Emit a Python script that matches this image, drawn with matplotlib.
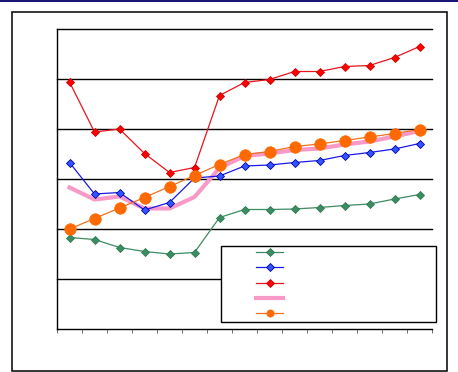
import matplotlib
matplotlib.use("Agg")
import matplotlib.pyplot as plt
from matplotlib.patches import Rectangle
from matplotlib.lines import Line2D

# ---- data ----
periods = list(range(1, 16))
green_vals = [1.83, 1.79, 1.63, 1.55, 1.50, 1.53, 2.23, 2.39, 2.39, 2.40, 2.43, 2.47, 2.50, 2.60, 2.69]
blue_vals = [3.33, 2.70, 2.73, 2.38, 2.53, 3.02, 3.06, 3.26, 3.28, 3.33, 3.37, 3.47, 3.53, 3.60, 3.71]
red_vals = [4.94, 3.94, 4.00, 3.51, 3.13, 3.23, 4.67, 4.93, 4.99, 5.15, 5.15, 5.25, 5.27, 5.43, 5.65]
pink_vals = [2.83, 2.59, 2.65, 2.41, 2.41, 2.64, 3.22, 3.46, 3.51, 3.58, 3.61, 3.69, 3.75, 3.85, 3.96]
orange_vals = [2.00, 2.21, 2.42, 2.63, 2.85, 3.07, 3.29, 3.49, 3.55, 3.65, 3.70, 3.77, 3.84, 3.91, 3.99]
legend_labels = [" ", " ", " ", " ", " "]
y_gridlines = [1, 2, 3, 4, 5, 6]

W, H = 458, 372
fig = plt.figure(figsize=(W / 100, H / 100), dpi=100)
fig.patch.set_facecolor("white")

def fx(px):
    return px / W

def fy(py):
    return 1 - py / H

# top navy rule
fig.add_artist(Line2D([0, 1], [fy(0.7), fy(0.7)], transform=fig.transFigure,
                      color="#000066", lw=1.3))
# outer chart border
fig.add_artist(Rectangle((fx(11.5), fy(370.5)), fx(446.5) - fx(11.5), fy(11.5) - fy(370.5),
                         transform=fig.transFigure, fill=False, edgecolor="black", lw=1.1))

ax = fig.add_axes([fx(57), fy(329), fx(432) - fx(57), fy(29) - fy(329)])
ax.set_xlim(0.5, 15.5)
ax.set_ylim(0, 6)
for s in ["top", "right"]:
    ax.spines[s].set_visible(False)
for s in ["left", "bottom"]:
    ax.spines[s].set_linewidth(1.0)
    ax.spines[s].set_color("black")
for g in y_gridlines:
    ax.axhline(g, color="black", lw=1.0, zorder=1, clip_on=False)

ax.set_xticks([p - 0.5 for p in periods] + [periods[-1] + 0.5])
ax.set_xticklabels([])
ax.set_yticks([])
ax.tick_params(axis="x", direction="out", length=3, width=0.6, color="#555555")

l_green, = ax.plot(periods, green_vals, color="#3C8C64", lw=0.9, marker="D", ms=4.2,
                   mfc="#3C8C64", mec="#2E7A52", mew=0.6, zorder=3)
l_blue, = ax.plot(periods, blue_vals, color="#1A1AE6", lw=0.9, marker="D", ms=4.2,
                  mfc="#3355FF", mec="#0000AA", mew=0.6, zorder=3)
l_red, = ax.plot(periods, red_vals, color="#E8141C", lw=0.9, marker="D", ms=4.2,
                 mfc="#FF0000", mec="#D00000", mew=0.6, zorder=3)
l_pink, = ax.plot(periods, pink_vals, color="#F79AC8", lw=3.0, zorder=2,
                  solid_joinstyle="round")
l_orange, = ax.plot(periods, orange_vals, color="#F07020", lw=0.9, marker="o", ms=8.3,
                    mfc="#FF6A00", mec="#FF6A00", mew=0.5, zorder=4)

# legend box
fig.add_artist(Rectangle((fx(220.5), fy(322)), fx(436) - fx(220.5), fy(246) - fy(322),
                         transform=fig.transFigure, facecolor="white", edgecolor="black",
                         lw=1.0, zorder=5))
leg = fig.legend([l_green, l_blue, l_red, l_pink, l_orange], legend_labels,
                 loc="upper left", bbox_to_anchor=(fx(252), fy(243)),
                 bbox_transform=fig.transFigure, frameon=False, fontsize=7,
                 borderpad=0.45, borderaxespad=0, handlelength=2.75, handletextpad=0.5,
                 labelspacing=0.55, markerscale=1.0)
leg.set_zorder(6)
leg.legend_handles[4].set_markersize(5.2)

fig.savefig("out.png", dpi=100)
